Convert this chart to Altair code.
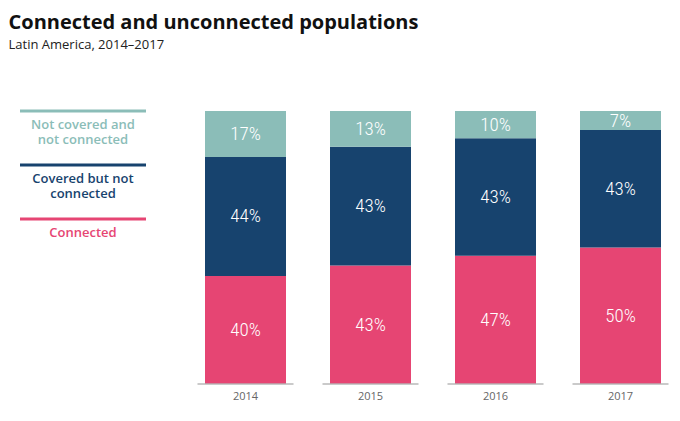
import altair as alt
import pandas as pd

years = ["2014", "2015", "2016", "2017"]
categories = ["Connected", "Covered but not connected", "Not covered and not connected"]
connected = [40, 43, 47, 50]
covered = [44, 43, 43, 43]
not_covered = [17, 13, 10, 7]
legend_labels = ["Connected", "Covered but not\nconnected", "Not covered and\nnot connected"]
legend_pos = [2, 1, 0]
colors = ["#e64573", "#17436e", "#8bbdb8"]

rows = []
for i, yr in enumerate(years):
    for k, (cat, vals) in enumerate(zip(categories, [connected, covered, not_covered])):
        rows.append({"year": yr, "category": cat, "order": k,
                     "value": vals[i], "label": f"{vals[i]}%"})
df = pd.DataFrame(rows)

color_scale = alt.Scale(domain=categories, range=colors)

x = alt.X("year:N",
          scale=alt.Scale(paddingInner=0.352, paddingOuter=0.056),
          axis=alt.Axis(title=None, labelAngle=0, domain=False, ticks=False,
                        labelColor="#666666", labelFontSize=11, labelPadding=6,
                        labelFont="Open Sans"))

base = alt.Chart(df).transform_stack(
    as_=["y0", "y1"], stack="value", groupby=["year"],
    offset="normalize", sort=[alt.SortField("order", "ascending")]
).transform_calculate(mid="(datum.y0 + datum.y1) / 2")

bars = base.mark_bar().encode(
    x=x,
    y=alt.Y("y0:Q", scale=alt.Scale(domain=[0, 1]), axis=None),
    y2="y1:Q",
    color=alt.Color("category:N", scale=color_scale, legend=None),
)
labels = base.mark_text(
    font="Roboto Condensed, DejaVu Sans Condensed, Liberation Sans Narrow, Roboto, sans-serif",
    fontSize=19, fontWeight=300,
    color="white", baseline="middle", align="center"
).encode(x=x, y="mid:Q", text="label:N")

baseline = alt.Chart(pd.DataFrame({"year": years})).mark_tick(
    size=96, thickness=2, color="#b3b3b3"
).encode(x=x, y=alt.datum(0))

bar_panel = alt.layer(bars, labels, baseline).properties(width=470, height=273)

leg_df = pd.DataFrame({"category": categories, "label": legend_labels, "pos": legend_pos})
leg_base = alt.Chart(leg_df)
leg_y = alt.Y("pos:Q", scale=alt.Scale(domain=[0, 3], reverse=True), axis=None)
leg_rules = leg_base.mark_rule(strokeWidth=3).encode(
    x=alt.X(datum=0, scale=alt.Scale(domain=[0, 1]), axis=None),
    x2=alt.datum(1),
    y=leg_y,
    color=alt.Color("category:N", scale=color_scale, legend=None),
)
leg_text = leg_base.mark_text(
    baseline="top", dy=8, lineBreak="\n", lineHeight=15, fontSize=13,
    font="Open Sans", fontWeight=600, align="center"
).encode(
    x=alt.X(datum=0.5, scale=alt.Scale(domain=[0, 1]), axis=None),
    y=leg_y,
    text="label:N",
    color=alt.Color("category:N", scale=color_scale, legend=None),
)
leg_panel = alt.layer(leg_rules, leg_text).properties(width=126, height=162)

chart = alt.hconcat(leg_panel, bar_panel, spacing=49).properties(
    title=alt.TitleParams(
        text="Connected and unconnected populations",
        subtitle="Latin America, 2014\u20132017",
        anchor="start", font="Open Sans", fontSize=20, fontWeight="bold",
        color="#111111", subtitleFont="Open Sans", subtitleFontSize=13,
        subtitleColor="#222222", subtitlePadding=6, dx=-10, offset=58,
    ),
    padding={"left": 0, "top": 4, "right": 0, "bottom": 5},
).configure_view(stroke=None)

chart.save("out.html", embed_options={"renderer": "svg", "actions": False})
